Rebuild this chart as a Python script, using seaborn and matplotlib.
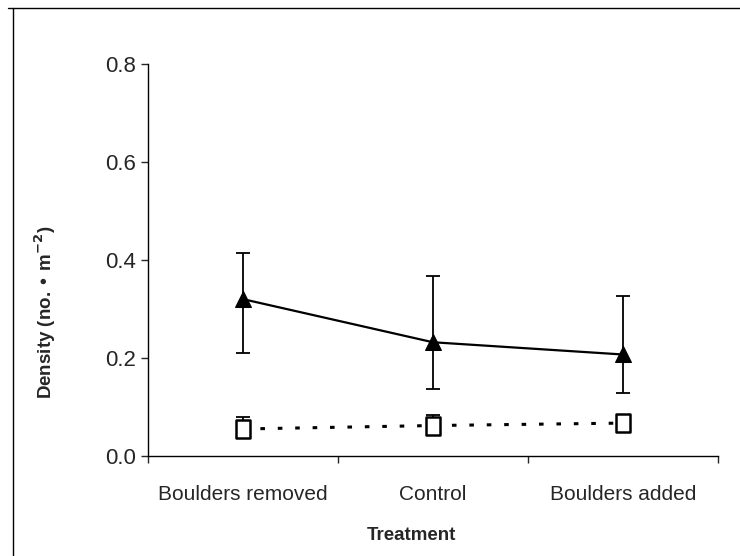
import matplotlib
matplotlib.use("Agg")
import matplotlib.pyplot as plt
import seaborn as sns
import pandas as pd
from matplotlib.lines import Line2D
from matplotlib.path import Path

# ---- data ----
treatments = ["Boulders removed", "Control", "Boulders added"]
tri_mean = [0.320, 0.232, 0.207]
tri_low = [0.210, 0.137, 0.129]
tri_high = [0.415, 0.368, 0.327]
sq_mean = [0.055, 0.062, 0.067]
sq_low = [0.045, 0.052, 0.060]
sq_high = [0.080, 0.083, 0.070]
y_ticks = [0.0, 0.2, 0.4, 0.6, 0.8]

sns.set_style("ticks")
plt.rcParams["font.family"] = ["Liberation Sans", "DejaVu Sans"]

fig = plt.figure(figsize=(7.4, 5.56), dpi=100)
ax = fig.add_axes([0.2, 0.18, 0.770, 0.705])

x = list(range(len(treatments)))
df_t = pd.DataFrame({"x": x, "y": tri_mean})
df_s = pd.DataFrame({"x": x, "y": sq_mean})

# error bars
ax.errorbar(x, tri_mean,
            yerr=[[m - l for m, l in zip(tri_mean, tri_low)],
                  [h - m for m, h in zip(tri_mean, tri_high)]],
            fmt="none", ecolor="black", elinewidth=1.3, capsize=5, capthick=1.3, zorder=2)
ax.errorbar(x, sq_mean,
            yerr=[[m - l for m, l in zip(sq_mean, sq_low)],
                  [h - m for m, h in zip(sq_mean, sq_high)]],
            fmt="none", ecolor="black", elinewidth=1.3, capsize=5, capthick=1.3, zorder=2)

rect = Path([(-0.39, -0.5), (0.39, -0.5), (0.39, 0.5), (-0.39, 0.5), (-0.39, -0.5)],
            [Path.MOVETO, Path.LINETO, Path.LINETO, Path.LINETO, Path.CLOSEPOLY])

sns.lineplot(data=df_t, x="x", y="y", ax=ax, color="black", linewidth=1.6,
             marker="^", markersize=12, markerfacecolor="black",
             markeredgecolor="black", zorder=3)
sns.lineplot(data=df_s, x="x", y="y", ax=ax, color="black", linewidth=2.2,
             marker=rect, markersize=13, markerfacecolor="white",
             markeredgecolor="black", markeredgewidth=1.8, zorder=3)
ax.lines[-1].set_dashes((1.5, 4.2))

ax.set_xlim(-0.5, 2.5)
ax.set_ylim(0, 0.8)
ax.set_yticks(y_ticks)
ax.set_yticklabels([f"{v:.1f}" for v in y_ticks], fontsize=16)
ax.set_xticks([-0.5, 0.5, 1.5, 2.5])
ax.set_xticklabels([])
ax.set_xticks(x, minor=True)
ax.set_xticklabels(treatments, minor=True, fontsize=15)
ax.tick_params(axis="x", which="minor", length=0, pad=21)
ax.tick_params(axis="x", which="major", length=5, width=1, direction="out")
ax.tick_params(axis="y", length=5, width=1, direction="out", pad=4)

ax.set_xlabel("Treatment", fontsize=13.5, fontweight="bold")
ax.xaxis.set_label_coords((412 - 148) / 570, -(536 - 456) / 392, transform=ax.transAxes)
ax.xaxis.label.set_va("center")
ax.set_ylabel("Density (no. \u2022 m$^{\\mathbf{-2}}$)", fontsize=13.5, fontweight="bold")
ax.yaxis.set_label_coords(-(148 - 45) / 570, (456 - 312) / 392, transform=ax.transAxes)
ax.yaxis.label.set_va("center")

sns.despine(ax=ax)
for s in ["left", "bottom"]:
    ax.spines[s].set_linewidth(1.0)
    ax.spines[s].set_color("black")

# outer frame fragments
fig.add_artist(Line2D([8 / 740, 1.0], [1 - 8 / 556, 1 - 8 / 556], color="black", lw=1.0,
                      transform=fig.transFigure))
fig.add_artist(Line2D([13 / 740, 13 / 740], [0, 1 - 8 / 556], color="black", lw=1.0,
                      transform=fig.transFigure))

fig.savefig("out.png", dpi=100)
